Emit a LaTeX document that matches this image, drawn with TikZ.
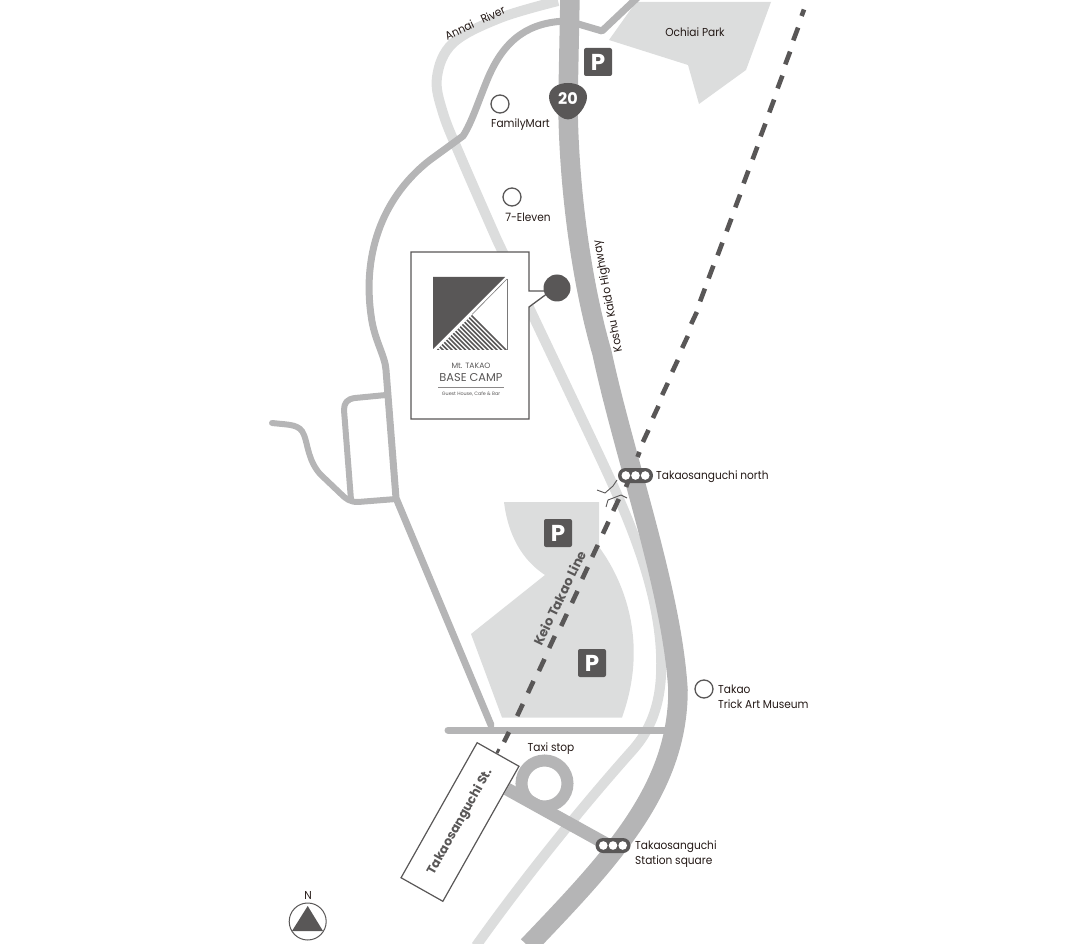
\documentclass[tikz,border=0pt]{standalone}
\usepackage{fontspec}
\setmainfont[FakeStretch=0.92]{Poppins}
\newfontfamily\logofont{Poppins}
\usepackage{xcolor}
\definecolor{MapDark}{RGB}{89,87,87}
\definecolor{MapRoad}{RGB}{181,181,182}
\definecolor{MapLight}{RGB}{220,221,221}
\definecolor{MapText}{RGB}{35,24,21}
\begin{document}
\begin{tikzpicture}[x=1pt,y=-1pt,
   road/.style={MapRoad,line width=#1,line cap=round,line join=round},
   river/.style={MapLight,line width=10pt},
   area/.style={fill=MapLight,draw=none},
   rail/.style={MapDark,line width=4.6pt},
   lbl/.style={inner sep=0pt,font=\fontsize{11.5}{15.5}\selectfont,text=MapText},
   boldlbl/.style={inner sep=0pt,text=MapDark,font=\logofont\fontsize{#1}{14}\selectfont\bfseries},
   logotxt/.style={inner sep=0pt,text=MapDark,font=\logofont\fontsize{#1}{12}\selectfont},
   place/.style={circle,draw=MapDark,line width=1.3pt,fill=white,minimum size=18pt,inner sep=0pt},
   park/.style={rectangle,rounded corners=2pt,fill=MapDark,text=white,minimum size=28pt,inner sep=0pt,font=\logofont\fontsize{23}{23}\selectfont\bfseries},
   signal/.style={rectangle,rounded corners=7.5pt,fill=MapDark,minimum width=35pt,minimum height=15pt,inner sep=0pt},
   lamp/.style={circle,fill=white,minimum size=8.6pt,inner sep=0pt}]
\useasboundingbox (0,0) rectangle (1080,944);
% park areas
\path[area] (636,2) -- (771,2) -- (746,70) -- (699,104) -- (688,65) -- (609,40) -- cycle;
\path[area] (504,502) -- (599,502) -- (599,547) .. controls (622,578) and (650,640) .. (622,717.5)
   -- (502,717.5) -- (471,634) -- (545,575) .. controls (522,560) and (508,535) .. (504,502) -- cycle;
% river
\draw[river] plot[smooth,tension=0.6] coordinates {(558,1) (500,18) (453,43) (437,77) (443,113) (462,160) (497,240)}
   -- (592,440) .. controls (620,500) and (665,590) .. (661,675) .. controls (659,720) and (640,742) .. (630,753)
   .. controls (590,798) and (530,870) .. (476,946);
% roads
\draw[road=7pt] (567,21) .. controls (530,22) and (505,38) .. (488,78)
   .. controls (478,102) and (472,122) .. (463,136) -- (430,160)
   .. controls (385,195) and (362,250) .. (371,315) .. controls (374,340) and (385,355) .. (386,370)
   -- (396,498) -- (491,725);
\draw[road=7pt] (568,21) -- (602,31) -- (638,-3);
\draw[road=6pt] (386,395) -- (355,398) .. controls (347,399) and (344,403) .. (344,410) -- (351,500);
\draw[road=6pt] (396,499) -- (358,502) .. controls (350,502) and (346,499) .. (341,494)
   -- (320,474) .. controls (308,460) and (308,445) .. (304,435) .. controls (300,424) and (290,425) .. (272,423);
\draw[road=13pt,line cap=butt] (507,789) -- (608,845);
\draw[MapRoad,line width=12pt] (544.5,783.5) circle[radius=23];
% railway
\draw[rail] (804,9.5) -- (801.6,16);
\foreach \x/\y in {795.7/34,787.7/58,780/82,771.7/106,763/130,755/153,746/177,737.7/201,729/225,720/249,711/272,702.5/295} {
   \draw[rail] (\x+2.4,\y-6.4) -- (\x-2.4,\y+6.4);
}
\draw[MapRoad,line width=19.5pt] (570,-3) -- (568,100) .. controls (568,170) and (578,270) .. (602,353)
   .. controls (625,460) and (672,590) .. (678,690) .. controls (678,790) and (610,860) .. (528,946);
\draw[road=7pt] (448,730) -- (668,730);
\foreach \x/\y in {694/318,685/342,675/366,665/389,655.7/412,645.7/436,616/505,605.7/527.7,595/551,585/573,574.7/597,564/620,552/642,541.7/665,530.7/687,520/710} {
   \draw[rail] (\x+2.8,\y-6) -- (\x-2.8,\y+6);
}
\draw[rail] (639.5,452) -- (637.5,457);
\draw[rail] (630,476) -- (626,487);
\draw[rail] (509,732) -- (504,742);
% crossing marks
\draw[MapDark,line width=0.9pt] (617,480) -- (613,486) -- (605,493) -- (597,490);
\draw[MapDark,line width=0.9pt] (606,507) -- (608,500) -- (621,495) -- (627,498);
% signals
\node[signal] (signorth) at (635.5,475.5) {};
\foreach \x in {-9.7,0,9.7} { \node[lamp] at (635.5+\x,475.5) {}; }
\node[signal] (sigstation) at (613,845.5) {};
\foreach \x in {-9.7,0,9.7} { \node[lamp] at (613+\x,845.5) {}; }
\node[lbl,anchor=west] (lblnorth) at (656,477) {Takaosanguchi north};
\node[lbl,anchor=north west,align=left] (lblstation) at (635,840.5) {Takaosanguchi\\Station square};
% route 20
\fill[MapDark] (568,119.5) .. controls (558,119) and (549,105) .. (549,97) .. controls (549,88) and (558,83) .. (568,83)
   .. controls (578,83) and (587,88) .. (587,97) .. controls (587,105) and (578,119) .. (568,119.5) -- cycle;
\node[inner sep=0pt,text=white,font=\logofont\fontsize{16}{16}\selectfont\bfseries] (route) at (568,99) {20};
% parking
\node[park] (parknorth) at (598,62) {P};
\node[park] (parkmid) at (558,533) {P};
\node[park] (parksouth) at (592,663) {P};
% base camp
\draw[MapDark,line width=1.3pt,fill=white] (411,252) -- (529,252) -- (529,291) -- (548,291) -- (548,293)
   -- (529,307) -- (529,419) -- (411,419) -- cycle;
\node[circle,fill=MapDark,minimum size=27pt,inner sep=0pt] (pin) at (557,288) {};
\fill[MapDark] (433,277) -- (505,277) -- (433,349) -- cycle;
\draw[MapDark!80,line width=0.6pt] (507,279) -- (472,314.5);
\draw[MapDark!80,line width=0.8pt] (507,279) -- (507,350);
\begin{scope}
\clip (436.5,350) -- (507,350) -- (472,315) -- cycle;
\foreach \i in {0,...,17} { \draw[MapDark,line width=1.6pt] (394+\i*4.5,310) -- ++(50,50); }
\end{scope}
\node[logotxt=7.7] (logotop) at (471,366) {Mt. TAKAO};
\node[logotxt=11.4] (logomain) at (471,377.5) {BASE CAMP};
\draw[MapDark!70,line width=0.4pt] (438,387) -- (504,387);
\node[logotxt=4.8] (logosub) at (471,394) {Guest House, Cafe \& Bar};
% places
\node[place] (family) at (500,104) {};
\node[lbl] (lblfamily) at (520.5,124.5) {FamilyMart};
\node[place] (eleven) at (512,197) {};
\node[lbl] (lbleleven) at (528,217.5) {7-Eleven};
\node[place] (museum) at (704,689) {};
\node[lbl,anchor=north west,align=left] (lblmuseum) at (718,684.5) {Takao\\Trick Art Museum};
\node[lbl] (lblpark) at (695,32.5) {Ochiai Park};
\node[lbl,rotate=25] (lblriver) at (475,23) {Annai\hspace{9pt}River};
\node[lbl,rotate=101] (lblhighway) at (608.5,296) {Koshu Kaido Highway};
\node[boldlbl=13,rotate=64] (lblkeio) at (559.5,598) {Keio Takao Line};
\node[lbl] (lbltaxi) at (551,748.5) {Taxi stop};
% street sign
\draw[rail,line width=3pt] (499,749) -- (497,753);
\node[draw=MapDark,line width=1.2pt,fill=white,rotate=60.6,minimum width=155pt,minimum height=48pt,inner sep=0pt,
   boldlbl=12.5] (street) at (460,822) {Takaosanguchi St.};
% north
\node[circle,draw=MapDark,line width=1pt,minimum size=37pt,inner sep=0pt] (compass) at (307.7,921.5) {};
\fill[MapDark] (307.7,906) -- (323,931) -- (292,931) -- cycle;
\node[lbl] (lbln) at (308,895.5) {N};
\end{tikzpicture}
\end{document}
